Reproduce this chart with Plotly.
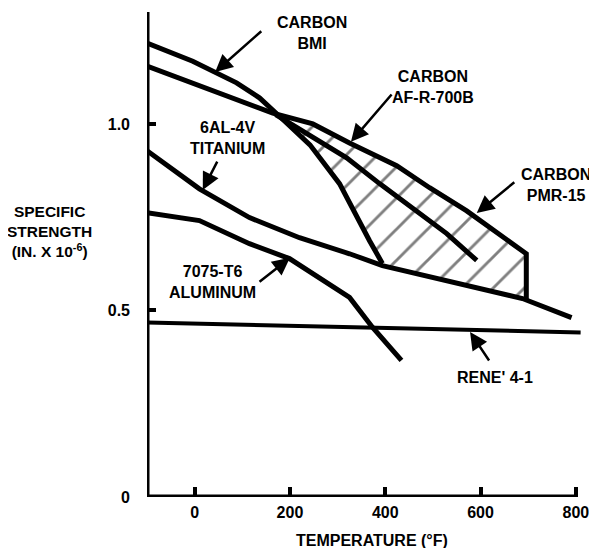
import numpy as np
import plotly.graph_objects as go

# ---- data (temperature °F, specific strength in. x 10^-6) ----
bmi_x = [-100, -4, 88, 136, 170, 242, 304, 340, 367, 394]
bmi_y = [1.217, 1.168, 1.110, 1.070, 1.030, 0.944, 0.840, 0.749, 0.687, 0.626]

pmr_x = [-100, 10, 164, 248, 325, 424, 493, 571, 634, 696, 696]
pmr_y = [1.155, 1.102, 1.029, 1.000, 0.949, 0.888, 0.829, 0.767, 0.709, 0.652, 0.528]

af_x = [170, 248, 319, 388, 457, 529, 592]
af_y = [1.025, 0.963, 0.909, 0.840, 0.775, 0.706, 0.634]

ti_x = [-100, 10, 115, 220, 325, 394, 688, 791]
ti_y = [0.928, 0.826, 0.749, 0.695, 0.652, 0.620, 0.532, 0.481]

al_x = [-100, 10, 115, 199, 325, 373, 434]
al_y = [0.762, 0.741, 0.679, 0.639, 0.535, 0.455, 0.366]

rene_x = [-100, 810]
rene_y = [0.468, 0.441]

x_ticks = [0, 200, 400, 600, 800]
y_ticks = [0, 0.5, 1.0]
y_tick_text = ["0", "0.5", "1.0"]

FONT = "Liberation Sans, Arial, Helvetica, sans-serif"

fig = go.Figure()

# hatched region between steep carbon curve, titanium curve and upper carbon curve
steep_x = bmi_x[4:]
steep_y = bmi_y[4:]
ti_seg_x = [x for x in ti_x if steep_x[-1] < x < pmr_x[-1]]
ti_seg_y = list(np.interp(ti_seg_x, ti_x, ti_y))
top_x = [x for x in pmr_x[::-1] if x > steep_x[0]]
top_y = [y for x, y in zip(pmr_x[::-1], pmr_y[::-1]) if x > steep_x[0]]
hx = steep_x + ti_seg_x + top_x + [steep_x[0]]
hy = steep_y + ti_seg_y + top_y + [steep_y[0]]
fig.add_trace(go.Scatter(
    x=hx, y=hy, mode="lines", fill="toself", line=dict(width=0, color="rgba(0,0,0,0)"),
    fillcolor="rgba(0,0,0,0)",
    fillpattern=dict(shape="/", size=22, solidity=0.13, fgcolor="black", bgcolor="white"),
    hoverinfo="skip", showlegend=False))

def curve(x, y, w=5):
    fig.add_trace(go.Scatter(x=x, y=y, mode="lines", line=dict(color="black", width=w),
                             showlegend=False, hoverinfo="skip"))

curve(bmi_x, bmi_y)
curve(pmr_x, pmr_y)
curve(af_x, af_y)
curve(ti_x, ti_y)
curve(al_x, al_y)
curve(rene_x, rene_y, 4)

# axis lines
fig.add_shape(type="line", x0=-100, x1=-100, y0=0, y1=1.30, xref="x", yref="y",
              line=dict(color="black", width=5))
fig.add_shape(type="line", x0=-100, x1=800, y0=0, y1=0, xref="x", yref="y",
              line=dict(color="black", width=5))

labels = [
    ("CARBON<br>BMI", 246, 1.243),
    ("CARBON<br>AF-R-700B", 500, 1.098),
    ("CARBON<br>PMR-15", 758, 0.836),
    ("6AL-4V<br>TITANIUM", 68, 0.962),
    ("7075-T6<br>ALUMINUM", 38, 0.575),
    ("RENE' 4-1", 630, 0.319),
]
for t, x, y in labels:
    fig.add_annotation(text=t, x=x, y=y, xref="x", yref="y", showarrow=False,
                       font=dict(family=FONT, size=16, color="black", weight="bold"),
                       align="center", xanchor="center", yanchor="middle")

# axis titles (paper coordinates, outside the plotting area)
fig.add_annotation(text="SPECIFIC<br>STRENGTH<br>(IN. X 10<sup>-6</sup>)", x=-0.2225, y=0.548,
                   xref="paper", yref="paper", showarrow=False, align="center",
                   xanchor="center", yanchor="middle",
                   font=dict(family=FONT, size=15.5, color="black", weight="bold"))
fig.add_annotation(text="TEMPERATURE (°F)", x=0.516, y=-0.0887,
                   xref="paper", yref="paper", showarrow=False,
                   xanchor="center", yanchor="middle",
                   font=dict(family=FONT, size=16, color="black", weight="bold"))

# arrows: (tail_x, tail_y, tip_x, tip_y)
arrows = [
    (143, 1.252, 43, 1.139),
    (416, 1.083, 328, 0.952),
    (674, 0.847, 592, 0.761),
    (49, 0.903, 17, 0.823),
    (133, 0.574, 200, 0.641),
    (620, 0.362, 578, 0.442),
]
for ax, ay, x, y in arrows:
    fig.add_annotation(text="", x=x, y=y, ax=ax, ay=ay, xref="x", yref="y",
                       axref="x", ayref="y", showarrow=True, arrowhead=2,
                       arrowsize=1.4, arrowwidth=2.5, arrowcolor="black")

fig.update_layout(
    width=589, height=540,
    margin=dict(l=139, r=14, t=4, b=51),
    paper_bgcolor="white", plot_bgcolor="white",
    font=dict(family=FONT, size=16, color="black", weight="bold"),
    showlegend=False,
)
fig.update_xaxes(range=[-100, 815], tickvals=x_ticks, ticks="inside", ticklen=10,
                 tickwidth=4, tickcolor="black", showgrid=False, zeroline=False,
                 showline=False, ticklabelstandoff=4, automargin=False,
                 tickfont=dict(family=FONT, size=16, color="black", weight="bold"))
fig.update_yaxes(range=[0, 1.30], tickvals=y_ticks, ticktext=y_tick_text, ticks="inside",
                 ticklen=9, tickwidth=4, tickcolor="black", showgrid=False, zeroline=False,
                 showline=False, ticklabelstandoff=16, automargin=False,
                 tickfont=dict(family=FONT, size=16, color="black", weight="bold"))

fig.write_html("out.html")
